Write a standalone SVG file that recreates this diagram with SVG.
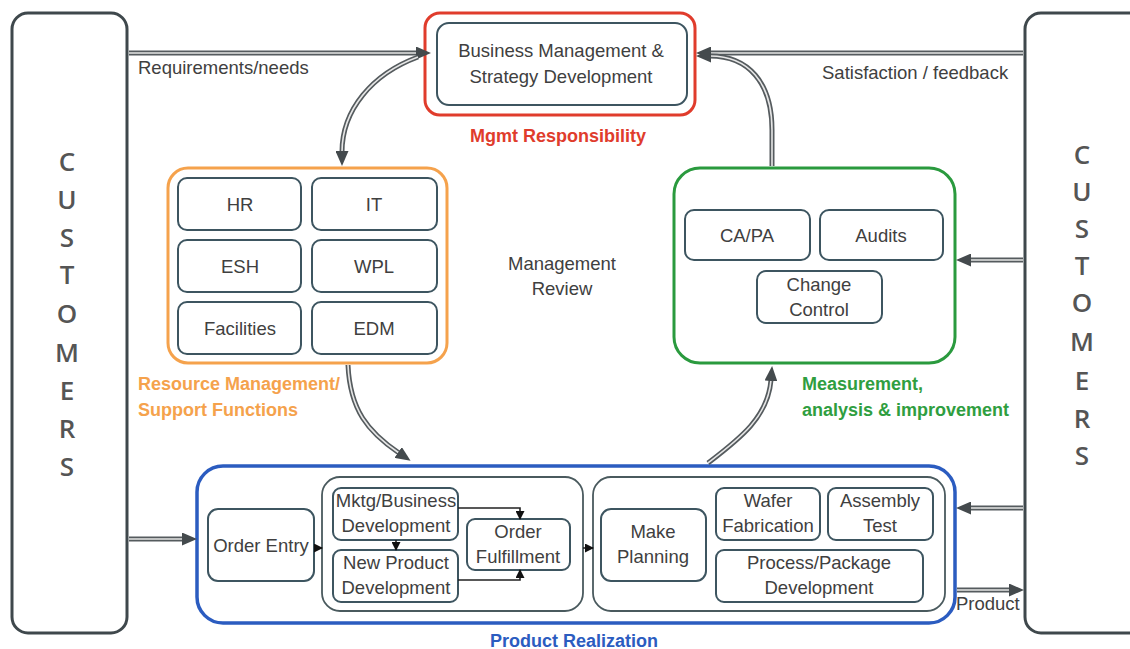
<svg xmlns="http://www.w3.org/2000/svg" width="1130" height="649" viewBox="0 0 1130 649">
<style>
text{font-family:"Liberation Sans",Arial,sans-serif;fill:#404040;font-size:18.5px;text-anchor:middle}
.cust{fill:#fff;stroke:#3f484c;stroke-width:3}
.letters{font-family:"Open Sans","Liberation Sans",sans-serif;font-weight:600;font-size:26px;fill:#555}
.box{fill:#fff;stroke:#3d5560;stroke-width:2}
.grp{fill:#fff;stroke:#4a5a5e;stroke-width:1.8}
.lbl{font-weight:bold;font-size:18px;text-anchor:start}
.outer{fill:none;stroke:#555b5e;stroke-width:5}
.inner{fill:none;stroke:#e6e6e6;stroke-width:1.6}
.thin{fill:none;stroke:#222;stroke-width:1.6}
.plain{text-anchor:start}
</style>
<defs>
<marker id="ah" markerUnits="userSpaceOnUse" markerWidth="15" markerHeight="13" refX="1" refY="6.5" orient="auto"><path d="M0,0 L15,6.5 L0,13 z" fill="#444a4d"/></marker>
<marker id="sa" markerUnits="userSpaceOnUse" markerWidth="9" markerHeight="9" refX="8" refY="4.5" orient="auto"><path d="M0,0 L9,4.5 L0,9 z" fill="#111"/></marker>
</defs>

<g id="customers-left">
<rect class="cust" x="12" y="13" width="115" height="620" rx="16"/>
<text class="letters" x="67" y="171">C</text>
<text class="letters" x="67" y="209">U</text>
<text class="letters" x="67" y="247">S</text>
<text class="letters" x="67" y="284">T</text>
<text class="letters" x="67" y="323">O</text>
<text class="letters" x="67" y="362">M</text>
<text class="letters" x="67" y="400">E</text>
<text class="letters" x="67" y="438">R</text>
<text class="letters" x="67" y="476">S</text>
</g>

<g id="customers-right">
<rect class="cust" x="1025" y="13" width="120" height="620" rx="16"/>
<text class="letters" x="1082" y="164">C</text>
<text class="letters" x="1082" y="201">U</text>
<text class="letters" x="1082" y="238">S</text>
<text class="letters" x="1082" y="275">T</text>
<text class="letters" x="1082" y="312">O</text>
<text class="letters" x="1082" y="351">M</text>
<text class="letters" x="1082" y="390">E</text>
<text class="letters" x="1082" y="428">R</text>
<text class="letters" x="1082" y="465">S</text>
</g>

<g id="labels">
<text class="plain" x="138" y="74">Requirements/needs</text>
<text class="plain" x="822" y="79">Satisfaction / feedback</text>
<text x="562" y="270">Management</text>
<text x="562" y="295">Review</text>
<text class="plain" x="956" y="610">Product</text>
</g>

<g id="mgmt-responsibility">
<rect x="425" y="13" width="270" height="102" rx="15" fill="#fff" stroke="#e03c2c" stroke-width="3"/>
<rect class="box" x="437" y="23" width="250" height="82" rx="12"/>
<text x="561" y="57">Business Management &amp;</text>
<text x="561" y="83">Strategy Development</text>
<text class="lbl" x="470" y="142" style="fill:#e03c2c">Mgmt Responsibility</text>
</g>

<g id="resource-management">
<rect x="168" y="168" width="279" height="195" rx="20" fill="#fff" stroke="#f5a24c" stroke-width="3"/>
<g id="hr"><rect class="box" x="178" y="178" width="123" height="52" rx="9"/><text x="240" y="211">HR</text></g>
<g id="it"><rect class="box" x="312" y="178" width="125" height="52" rx="9"/><text x="374" y="211">IT</text></g>
<g id="esh"><rect class="box" x="178" y="240" width="123" height="52" rx="9"/><text x="240" y="273">ESH</text></g>
<g id="wpl"><rect class="box" x="312" y="240" width="125" height="52" rx="9"/><text x="374" y="273">WPL</text></g>
<g id="facilities"><rect class="box" x="178" y="302" width="123" height="52" rx="9"/><text x="240" y="335">Facilities</text></g>
<g id="edm"><rect class="box" x="312" y="302" width="125" height="52" rx="9"/><text x="374" y="335">EDM</text></g>
<text class="lbl" x="138" y="390" style="fill:#f5a24c">Resource Management/</text>
<text class="lbl" x="138" y="416" style="fill:#f5a24c">Support Functions</text>
</g>

<g id="measurement">
<rect x="674" y="168" width="281" height="195" rx="26" fill="#fff" stroke="#2a9a3e" stroke-width="3"/>
<g id="capa"><rect class="box" x="685" y="210" width="125" height="50" rx="9"/><text x="747" y="242">CA/PA</text></g>
<g id="audits"><rect class="box" x="820" y="210" width="123" height="50" rx="9"/><text x="881" y="242">Audits</text></g>
<g id="change-control"><rect class="box" x="757" y="271" width="125" height="52" rx="9"/><text x="819" y="291">Change</text><text x="819" y="316">Control</text></g>
<text class="lbl" x="802" y="390" style="fill:#2f9e40">Measurement,</text>
<text class="lbl" x="802" y="416" style="fill:#2f9e40">analysis &amp; improvement</text>
</g>

<g id="product-realization">
<rect x="197" y="466" width="758" height="157" rx="26" fill="#fff" stroke="#2b5cc0" stroke-width="3.5"/>
<text class="lbl" x="490" y="647" style="fill:#2b5cc0">Product Realization</text>
<g id="order-entry"><rect class="box" x="208" y="509" width="106" height="72" rx="10"/><text x="261" y="552">Order Entry</text></g>
<rect class="grp" x="322" y="477" width="261" height="134" rx="18"/>
<g id="mktg"><rect class="box" x="333" y="488" width="125" height="52" rx="8"/><text x="396" y="507">Mktg/Business</text><text x="396" y="532">Development</text></g>
<g id="npd"><rect class="box" x="333" y="550" width="125" height="52" rx="8"/><text x="396" y="569">New Product</text><text x="396" y="594">Development</text></g>
<g id="order-fulfillment"><rect class="box" x="467" y="519" width="103" height="51" rx="8"/><text x="518" y="538">Order</text><text x="518" y="563">Fulfillment</text></g>
<rect class="grp" x="593" y="477" width="352" height="134" rx="18"/>
<g id="make-planning"><rect class="box" x="601" y="509" width="105" height="72" rx="10"/><text x="653" y="538">Make</text><text x="653" y="563">Planning</text></g>
<g id="wafer-fab"><rect class="box" x="716" y="488" width="104" height="52" rx="8"/><text x="768" y="507">Wafer</text><text x="768" y="532">Fabrication</text></g>
<g id="assembly-test"><rect class="box" x="828" y="488" width="105" height="52" rx="8"/><text x="880" y="507">Assembly</text><text x="880" y="532">Test</text></g>
<g id="process-package"><rect class="box" x="716" y="550" width="207" height="52" rx="8"/><text x="819" y="569">Process/Package</text><text x="819" y="594">Development</text></g>
</g>

<g id="connectors">
<path class="outer" d="M129,53 H417"/><path class="inner" d="M129,53 H417" marker-end="url(#ah)"/>
<path class="outer" d="M418,57 C372,74 342,110 342,152"/><path class="inner" d="M418,57 C372,74 342,110 342,152" marker-end="url(#ah)"/>
<path class="outer" d="M1023,53 H710"/><path class="inner" d="M1023,53 H710" marker-end="url(#ah)"/>
<path class="outer" d="M772,166 V130 C772,82 748,56 710,56"/><path class="inner" d="M772,166 V130 C772,82 748,56 710,56" marker-end="url(#ah)"/>
<path class="outer" d="M1023,260 H970"/><path class="inner" d="M1023,260 H970" marker-end="url(#ah)"/>
<path class="outer" d="M348,365 C350,410 368,432 399,453"/><path class="inner" d="M348,365 C350,410 368,432 399,453" marker-end="url(#ah)"/>
<path class="outer" d="M708,463 C738,440 768,418 771,380"/><path class="inner" d="M708,463 C738,440 768,418 771,380" marker-end="url(#ah)"/>
<path class="outer" d="M129,539 H183"/><path class="inner" d="M129,539 H183" marker-end="url(#ah)"/>
<path class="outer" d="M1023,508 H970"/><path class="inner" d="M1023,508 H970" marker-end="url(#ah)"/>
<path class="outer" d="M957,590 H1010"/><path class="inner" d="M957,590 H1010" marker-end="url(#ah)"/>
<path class="thin" d="M314,548 H322" marker-end="url(#sa)"/>
<path class="thin" d="M396,540 V550" marker-end="url(#sa)"/>
<path class="thin" d="M458,508 H520 V519" marker-end="url(#sa)"/>
<path class="thin" d="M458,580 H520 V570" marker-end="url(#sa)"/>
<path class="thin" d="M583,548 H593" marker-end="url(#sa)"/>
</g>
</svg>
